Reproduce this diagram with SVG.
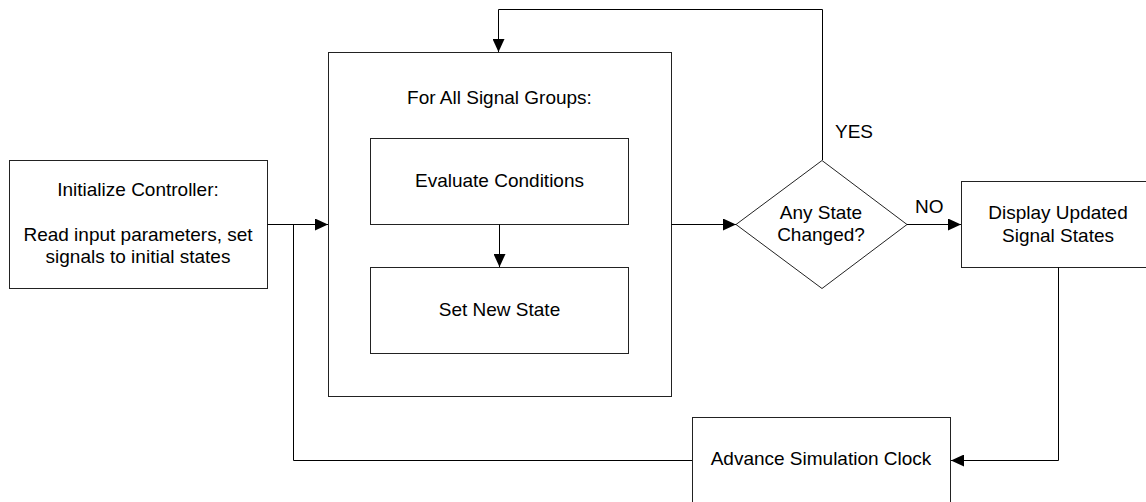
<svg xmlns="http://www.w3.org/2000/svg" width="1146" height="502" viewBox="0 0 1146 502">
<style>
.box{fill:#fff;stroke:#222;stroke-width:1}
.ln{fill:none;stroke:#000;stroke-width:1}
.t{font-family:"Liberation Sans",Arial,sans-serif;font-size:19px;fill:#000;text-anchor:middle}
.l{font-family:"Liberation Sans",Arial,sans-serif;font-size:19px;fill:#000}
</style>
<defs>
<marker id="arr" viewBox="0 0 13 12" refX="13" refY="6" markerWidth="13" markerHeight="12" markerUnits="userSpaceOnUse" orient="auto">
<path d="M0,0 L13,6 L0,12 Z" fill="#000"/>
</marker>
</defs>
<rect width="1146" height="502" fill="#fff"/>
<g id="n-init">
<rect class="box" x="9.5" y="160.5" width="258" height="128"/>
<text class="t" x="138" y="196">Initialize Controller:</text>
<text class="t" x="138" y="241">Read input parameters, set</text>
<text class="t" x="138" y="263">signals to initial states</text>
</g>
<g id="n-loop">
<rect class="box" x="328.5" y="52.5" width="343" height="344"/>
<text class="t" x="499.5" y="104">For All Signal Groups:</text>
</g>
<g id="n-eval">
<rect class="box" x="370.5" y="138.5" width="258" height="86"/>
<text class="t" x="499.5" y="187">Evaluate Conditions</text>
</g>
<g id="n-set">
<rect class="box" x="370.5" y="267.5" width="258" height="86"/>
<text class="t" x="499.5" y="316">Set New State</text>
</g>
<g id="n-decision">
<polygon class="box" points="822,160.5 907,224.5 822,288.5 736,224.5"/>
<text class="t" x="821" y="219">Any State</text>
<text class="t" x="821" y="241">Changed?</text>
</g>
<g id="n-display">
<rect class="box" x="961.5" y="181.5" width="200" height="86"/>
<text class="t" x="1058" y="219">Display Updated</text>
<text class="t" x="1058" y="242">Signal States</text>
</g>
<g id="n-advance">
<rect class="box" x="692.5" y="417.5" width="258" height="90"/>
<text class="t" x="821" y="465">Advance Simulation Clock</text>
</g>
<g id="connectors">
<path class="ln" d="M267.5,224.5 H328" marker-end="url(#arr)"/>
<path class="ln" d="M692,460.5 H293.5 V224.5"/>
<path class="ln" d="M499.5,224.5 V267" marker-end="url(#arr)"/>
<path class="ln" d="M671.5,224.5 H736" marker-end="url(#arr)"/>
<path class="ln" d="M822.5,160 V9.5 H498.5 V52" marker-end="url(#arr)"/>
<path class="ln" d="M907,224.5 H961" marker-end="url(#arr)"/>
<path class="ln" d="M1058.5,267.5 V460.5 H951" marker-end="url(#arr)"/>
<text class="l" x="835" y="138">YES</text>
<text class="l" x="915" y="213">NO</text>
</g>
</svg>
